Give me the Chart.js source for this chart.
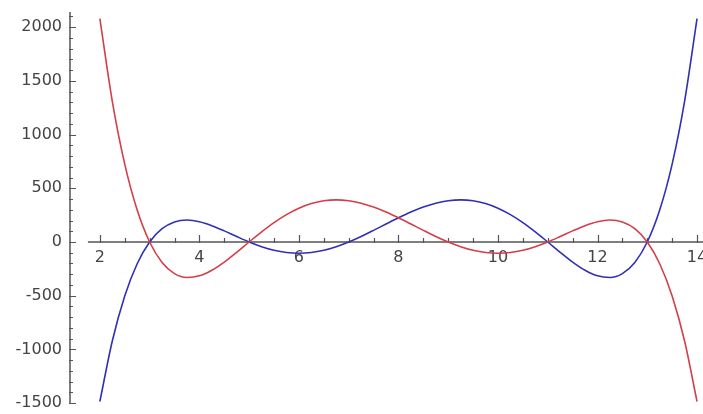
<!DOCTYPE html>
<html>
<head>
<meta charset="utf-8">
<script src="https://cdn.jsdelivr.net/npm/chart.js@4"></script>
<style>
  html, body { margin: 0; padding: 0; background: #fff; }
  #wrap { width: 703px; height: 414px; position: relative; }
</style>
</head>
<body>
<div id="wrap"><canvas id="chart"></canvas></div>
<script>
// punkty na osi x (co 0.25)
const xValues = [2, 2.25, 2.5, 2.75, 3, 3.25, 3.5, 3.75, 4, 4.25, 4.5, 4.75, 5, 5.25, 5.5, 5.75,
    6, 6.25, 6.5, 6.75, 7, 7.25, 7.5, 7.75, 8, 8.25, 8.5, 8.75, 9, 9.25, 9.5, 9.75,
    10, 10.25, 10.5, 10.75, 11, 11.25, 11.5, 11.75, 12, 12.25, 12.5, 12.75, 13, 13.25, 13.5, 13.75, 14];

// czerwona krzywa
const redValues = [2079, 1309.5, 725.2, 297.3, 0, -190.1, -293.9, -330.1, -315, -263.0, -186.5, -95.9,
    0, 94.0, 180.5, 255.1, 315, 358.2, 383.9, 392.2, 384, 360.8, 324.8, 278.6,
    225, 167.2, 108.3, 51.5, 0, -43.6, -76.8, -97.7, -105, -98.1, -77.3, -43.9,
    0, 50.8, 103.6, 152.3, 189, 204.3, 187.0, 124.0, 0, -202.2, -502.0, -921.5, -1485];

// niebieska krzywa
const blueValues = [-1485, -921.5, -502.0, -202.2, 0, 124.0, 187.0, 204.3, 189, 152.3, 103.6, 50.8,
    0, -43.9, -77.3, -98.1, -105, -97.7, -76.8, -43.6, 0, 51.5, 108.3, 167.2,
    225, 278.6, 324.8, 360.8, 384, 392.2, 383.9, 358.2, 315, 255.1, 180.5, 94.0,
    0, -95.9, -186.5, -263.0, -315, -330.1, -293.9, -190.1, 0, 297.3, 725.2, 1309.5, 2079];

// etykiety osi
const xTicks = [2, 4, 6, 8, 10, 12, 14];
const yTicks = [-1500, -1000, -500, 0, 500, 1000, 1500, 2000];

const axisColor = '#555';
const labelFont = { family: 'DejaVu Sans', size: 16 };

// bez dodatkowych marginesow na etykiety - uklad ustawia layout.padding
const noPadding = (scale) => {
    scale.paddingTop = 0;
    scale.paddingBottom = 0;
    scale.paddingLeft = 0;
    scale.paddingRight = 0;
};

// osie z podzialka skierowana do srodka (jak w Sage)
const axesPlugin = {
    id: 'sageAxes',
    beforeDatasetsDraw(chart) {
        const { ctx, chartArea, scales: { x, y } } = chart;
        const y0 = y.getPixelForValue(0);
        const xStart = x.getPixelForValue(1.76);
        ctx.save();
        ctx.strokeStyle = axisColor;
        ctx.lineWidth = 1.5;
        ctx.beginPath();
        // os x
        ctx.moveTo(xStart, y0);
        ctx.lineTo(chartArea.right, y0);
        // os y
        ctx.moveTo(chartArea.left, chartArea.top);
        ctx.lineTo(chartArea.left, chartArea.bottom);
        ctx.stroke();

        ctx.lineWidth = 1.2;
        ctx.beginPath();
        for (let v = 2; v <= 14.001; v += 0.5) {
            const px = Math.round(x.getPixelForValue(v)) + 0.5;
            const len = Number.isInteger(v / 2) ? 7 : 4;
            ctx.moveTo(px, y0 + 1);
            ctx.lineTo(px, y0 - len);
        }
        for (let v = -1500; v <= 2100; v += 100) {
            const py = Math.round(y.getPixelForValue(v)) + 0.5;
            const len = v % 500 === 0 ? 6 : 3;
            ctx.moveTo(chartArea.left - 1, py);
            ctx.lineTo(chartArea.left + len, py);
        }
        ctx.stroke();
        ctx.restore();
    }
};

const ctx = document.getElementById('chart').getContext('2d');
new Chart(ctx, {
    type: 'line',
    data: {
        datasets: [{
            data: xValues.map((v, i) => ({ x: v, y: redValues[i] })),
            borderColor: 'rgb(212, 62, 72)',
            borderWidth: 1.6
        }, {
            data: xValues.map((v, i) => ({ x: v, y: blueValues[i] })),
            borderColor: 'rgb(48, 48, 180)',
            borderWidth: 1.6
        }]
    },
    options: {
        responsive: true,
        maintainAspectRatio: false,
        animation: false,
        layout: { padding: { top: 12, bottom: 10, left: 0, right: 0 } },
        elements: {
            point: { radius: 0 },
            line: { cubicInterpolationMode: 'monotone' }
        },
        scales: {
            x: {
                type: 'linear',
                position: { y: 0 },
                min: 1.4,
                max: 14.12,
                afterBuildTicks: (scale) => { scale.ticks = xTicks.map(v => ({ value: v })); },
                afterFit: noPadding,
                grid: { display: false, drawTicks: false },
                border: { display: false },
                ticks: {
                    font: labelFont, color: '#444', padding: 6, maxRotation: 0,
                    callback: (v) => String(v)
                }
            },
            y: {
                type: 'linear',
                min: -1508,
                max: 2141,
                afterBuildTicks: (scale) => { scale.ticks = yTicks.map(v => ({ value: v })); },
                afterFit: (scale) => { scale.width = 70; noPadding(scale); },
                grid: { display: false, drawTicks: false },
                border: { display: false },
                ticks: {
                    font: labelFont, color: '#444', padding: 8,
                    callback: (v) => String(v)
                }
            }
        },
        plugins: {
            legend: { display: false },
            tooltip: { enabled: false }
        }
    },
    plugins: [axesPlugin]
});
</script>
</body>
</html>
